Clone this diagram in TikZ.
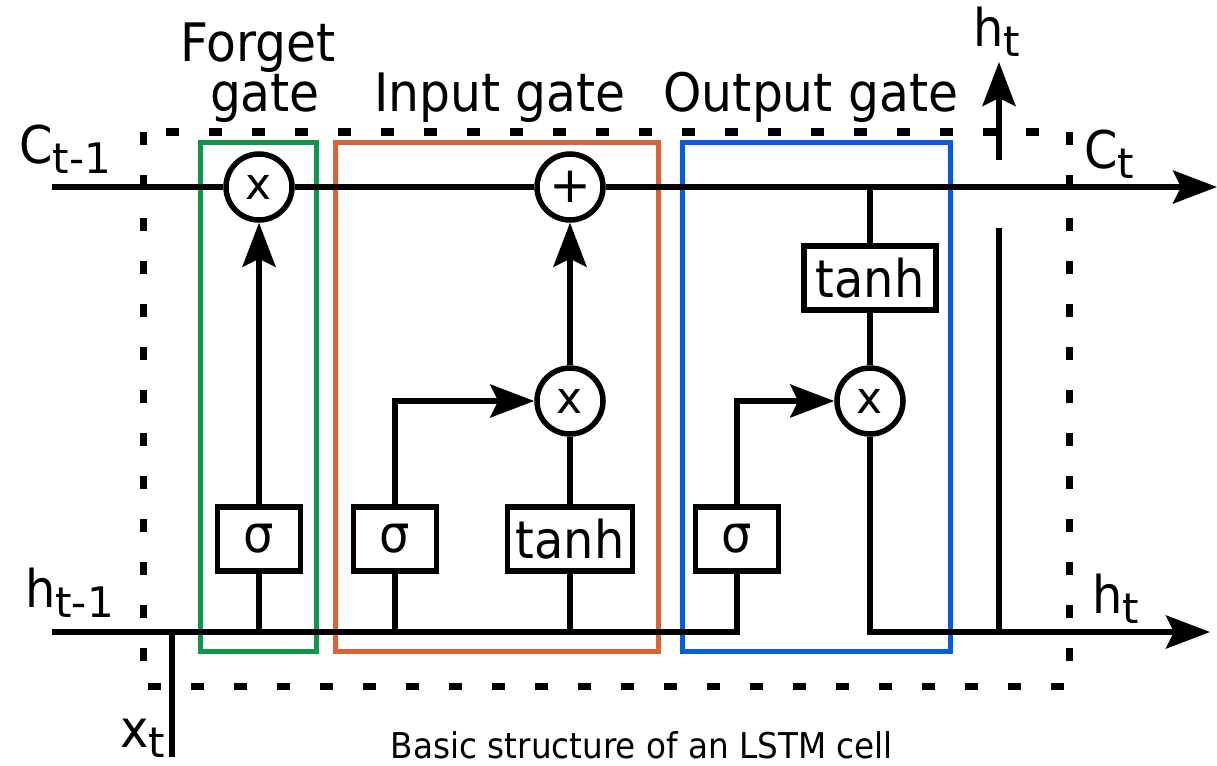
\documentclass[tikz,border=0pt]{standalone}
\usepackage{fontspec}
\setmainfont[FakeStretch=0.92]{DejaVu Sans}
\newfontfamily\plainfont{DejaVu Sans}
\usetikzlibrary{arrows.meta}
\newcommand\lowsub[1]{\lower10pt\hbox{\plainfont\fontsize{42}{42}\selectfont #1}}
\definecolor{fgreen}{RGB}{16,150,72}
\definecolor{iorange}{RGB}{214,100,56}
\definecolor{oblue}{RGB}{8,92,218}
\begin{document}
\begin{tikzpicture}[x=1pt,y=-1pt,
  lbl/.style={inner sep=0pt, anchor=base west, font=\fontsize{52}{52}\selectfont},
  title/.style={inner sep=0pt, anchor=base, font=\fontsize{53}{53}\selectfont},
  op/.style={circle, draw, line width=5.5pt, minimum size=66pt, inner sep=0pt, fill=white, font=\plainfont\fontsize{44}{44}\selectfont},
  fn/.style={rectangle, draw, line width=5.5pt, minimum height=64pt, inner sep=0pt, fill=white, font=\fontsize{52}{52}\selectfont},
  wire/.style={line width=5.5pt},
  arr/.style={line width=5.5pt, -{Stealth[length=44pt,width=33pt,inset=8pt]}},
  gatebox/.style={line width=5pt},
  cellbox/.style={line width=7pt, dash pattern=on 13pt off 30pt},
]
\useasboundingbox (0,0) rectangle (1217,765);

% gate frames
\draw[gatebox, fgreen] (200,142) rectangle (316,651);
\draw[gatebox, iorange] (335,142) rectangle (658,651);
\draw[gatebox, oblue] (682,142) rectangle (950,651);
% cell frame
\draw[cellbox] (143,132) rectangle (1069,686);

% coordinates
\coordinate (cin) at (52,187);
\coordinate (cout) at (1217,187);
\coordinate (hin) at (52,632);
\coordinate (hout) at (1210,632);
\coordinate (hj) at (999,632);
\coordinate (hgapa) at (999,228);
\coordinate (hgapb) at (999,160);
\coordinate (htop) at (999,62);
\coordinate (xj) at (172,632);
\coordinate (xbot) at (172,757);

% operators
\node[op] (fx) at (259,187) {x};
\node[op, font=\plainfont\fontsize{50}{50}\selectfont] (plus) at (570,187) {+};
\node[op] (ix) at (570,401) {x};
\node[op] (ox) at (870,401) {x};

% functions
\node[fn, minimum width=83pt] (fs) at (259,539) {σ};
\node[fn, minimum width=83pt] (is) at (395,539) {σ};
\node[fn, minimum width=125pt] (it) at (570,539) {tanh};
\node[fn, minimum width=83pt] (os) at (737,539) {σ};
\node[fn, minimum width=132pt] (ot) at (870,278) {tanh};

% wires
\draw[wire] (cin) -- (fx);
\draw[wire] (fx) -- (plus);
\draw[arr] (plus) -- (cout);
\draw[wire] (hin) -| (os);
\draw[wire] (fs) -- (fs |- hin);
\draw[wire] (is) -- (is |- hin);
\draw[wire] (it) -- (it |- hin);
\draw[arr] (fs) -- (fx);
\draw[arr] (is) |- (ix);
\draw[wire] (it) -- (ix);
\draw[arr] (ix) -- (plus);
\draw[arr] (os) |- (ox);
\draw[wire] (ot) -- (ot |- cout);
\draw[wire] (ot) -- (ox);
\draw[arr] (ox) |- (hout);
\draw[wire] (hj) -- (hgapa);
\draw[arr] (hgapb) -- (htop);
\draw[wire] (xbot) -- (xj);

% labels
\node[lbl] (lc0) at (19,163) {C\lowsub{t-1}};
\node[lbl] (lh0) at (25,607) {h\lowsub{t-1}};
\node[lbl] (lx) at (120,747) {x\lowsub{t}};
\node[lbl] (lht) at (973,47) {h\lowsub{t}};
\node[lbl] (lct) at (1084,168) {C\lowsub{t}};
\node[lbl] (lhr) at (1092,613) {h\lowsub{t}};

\node[title] (tf1) at (258,62) {Forget};
\node[title] (tf2) at (265,112) {gate};
\node[title] (ti) at (500,112) {Input gate};
\node[title] (to) at (811,112) {Output gate};

\node[inner sep=0pt, anchor=base, font=\fontsize{35.5}{36}\selectfont] (cap) at (642,758) {Basic structure of an LSTM cell};
\end{tikzpicture}
\end{document}
